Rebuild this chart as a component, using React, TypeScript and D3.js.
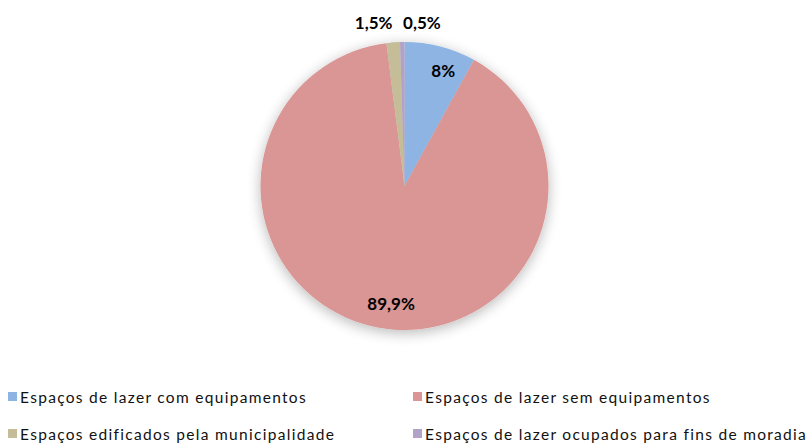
import React from "react";
import * as d3 from "d3";

const categories = [
  "Espaços de lazer com equipamentos",
  "Espaços de lazer sem equipamentos",
  "Espaços edificados pela municipalidade",
  "Espaços de lazer ocupados para fins de moradia",
];
const values = [8, 89.9, 1.5, 0.5];
const valueLabels = ["8%", "89,9%", "1,5%", "0,5%"];
const colors = ["#8EB4E3", "#D99694", "#C4BD97", "#B3A2C7"];

const W = 807;
const H = 443;

export default function App() {
  const cx = 404.5;
  const cy = 186;
  const R = 144;
  const pie = d3.pie<number>().sort(null).value((d) => d)(values);
  const arc = d3.arc<d3.PieArcDatum<number>>().innerRadius(0).outerRadius(R);
  const labelArc = d3.arc<d3.PieArcDatum<number>>().innerRadius(R * 0.83).outerRadius(R * 0.83);

  const labelPos = pie.map((p, i) => {
    const share = (p.endAngle - p.startAngle) / (2 * Math.PI);
    if (share > 0.05) {
      const [x, y] = labelArc.centroid(p);
      return { x: cx + x + (i === 0 ? 9 : 9), y: cy + y };
    }
    const mid = (p.startAngle + p.endAngle) / 2;
    const r = R + 20;
    const bx = cx + Math.sin(mid) * r;
    const by = cy - Math.cos(mid) * r;
    const nudge = i === 2 ? -18 : 20;
    return { x: bx + nudge, y: by };
  });

  const legendX = [8, 413];
  const legendY = [397, 434];

  return (
    <svg width={W} height={H} style={{ position: "absolute", left: 0, top: 0, background: "#fff" }}>
      <defs>
        <filter id="shadow" x="-30%" y="-30%" width="160%" height="160%">
          <feGaussianBlur in="SourceAlpha" stdDeviation="7" />
          <feOffset dx="0" dy="3" result="b" />
          <feComponentTransfer>
            <feFuncA type="linear" slope="0.28" />
          </feComponentTransfer>
          <feMerge>
            <feMergeNode />
            <feMergeNode in="SourceGraphic" />
          </feMerge>
        </filter>
      </defs>
      <g transform={`translate(${cx},${cy})`} filter="url(#shadow)">
        {pie.map((p, i) => (
          <path key={i} d={arc(p) || ""} fill={colors[i]} />
        ))}
      </g>
      {labelPos.map((l, i) => (
        <text
          key={i}
          x={l.x}
          y={l.y}
          textAnchor="middle"
          dominantBaseline="central"
          fontFamily="Lato, sans-serif"
          fontWeight="bold"
          fontSize={17}
          fill="#000"
        >
          {valueLabels[i]}
        </text>
      ))}
      {categories.map((c, i) => {
        const x = legendX[i % 2];
        const y = legendY[Math.floor(i / 2)];
        return (
          <g key={i}>
            <rect x={x} y={y - 5} width={9} height={9} fill={colors[i]} />
            <text
              x={x + 12}
              y={y}
              dominantBaseline="central"
              fontFamily="Lato, sans-serif"
              fontSize={15.5}
              letterSpacing={1.3}
              fill="#111"
            >
              {c}
            </text>
          </g>
        );
      })}
    </svg>
  );
}
